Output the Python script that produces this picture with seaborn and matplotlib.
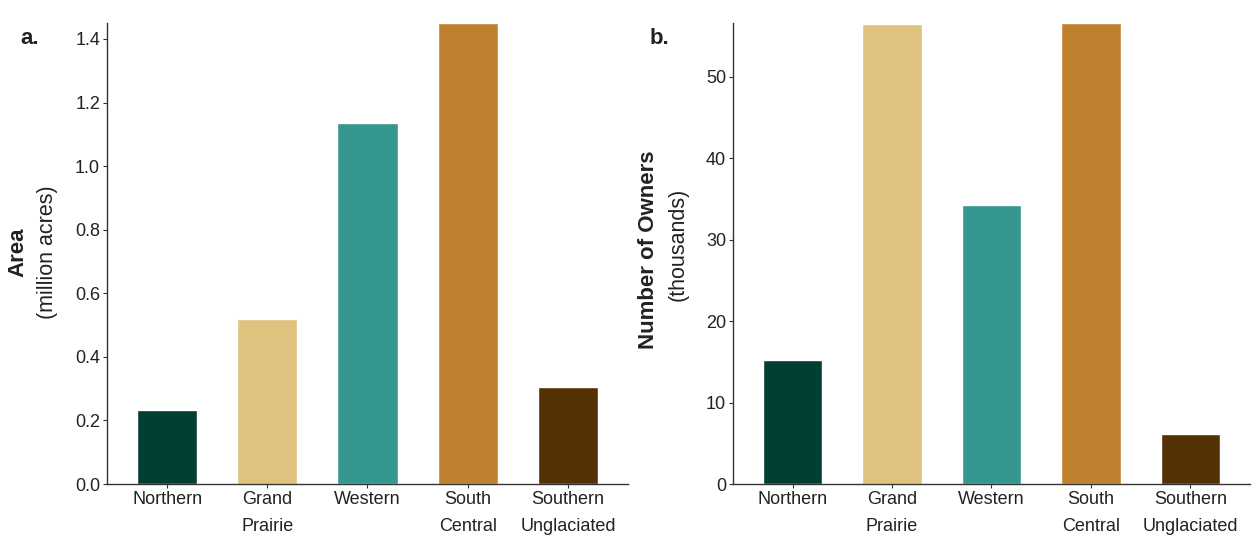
import matplotlib
matplotlib.use("Agg")
import matplotlib.pyplot as plt
import seaborn as sns
import pandas as pd

# ---- data ----
regions = ["Northern", "Grand\nPrairie", "Western", "South\nCentral", "Southern\nUnglaciated"]
area_macres = [0.232, 0.518, 1.135, 1.45, 0.305]
owners_k = [15.2, 56.5, 34.3, 56.6, 6.2]
colors = ["#023f33", "#dfc27d", "#35978f", "#bf812d", "#543005"]

sns.set_theme(style="white")
plt.rcParams["font.family"] = ["Liberation Sans", "DejaVu Sans"]

df = pd.DataFrame({"region": regions, "area": area_macres, "owners": owners_k})
pal = dict(zip(regions, colors))

fig = plt.figure(figsize=(12.54, 5.36), dpi=100)
ax1 = fig.add_axes([0.0853, 0.097, 0.4155, 0.860])
ax2 = fig.add_axes([0.5845, 0.097, 0.4123, 0.860])

for ax, col, yt in [(ax1, "area", [0, 0.2, 0.4, 0.6, 0.8, 1.0, 1.2, 1.4]),
                    (ax2, "owners", [0, 10, 20, 30, 40, 50])]:
    sns.barplot(data=df, x="region", y=col, hue="region", palette=pal,
                legend=False, width=0.6, saturation=1, ax=ax)
    ax.set_xlim(-0.6, 4.6)
    ax.set_ylim(0, df[col].max())
    ax.set_yticks(yt)
    ax.set_xlabel("")
    ax.set_ylabel("")
    sns.despine(ax=ax)
    for s in ["left", "bottom"]:
        ax.spines[s].set_color("#333333")
        ax.spines[s].set_linewidth(1.0)
    ax.tick_params(axis="both", which="both", direction="out", length=3,
                   width=0.8, color="#333333", left=True, bottom=True,
                   labelsize=13, labelcolor="#222222", pad=2)
    for lab in ax.get_xticklabels():
        lab.set_linespacing(1.75)
        lab.set_verticalalignment("top")

ax1.set_yticklabels(["0.0", "0.2", "0.4", "0.6", "0.8", "1.0", "1.2", "1.4"])

# y axis titles (bold main + regular unit line)
fig.text(18 / 1254, 1 - 252 / 536, "Area", rotation=90, fontsize=16,
         fontweight="bold", ha="center", va="center", color="#222222")
fig.text(48 / 1254, 1 - 252 / 536, "(million acres)", rotation=90, fontsize=15.5,
         ha="center", va="center", color="#222222")
fig.text(648 / 1254, 1 - 250 / 536, "Number of Owners", rotation=90, fontsize=16,
         fontweight="bold", ha="center", va="center", color="#222222")
fig.text(678 / 1254, 1 - 244 / 536, "(thousands)", rotation=90, fontsize=15.5,
         ha="center", va="center", color="#222222")

# panel letters
fig.text(20 / 1254, 1 - 38 / 536, "a.", fontsize=16, fontweight="bold",
         ha="left", va="center", color="#222222")
fig.text(650 / 1254, 1 - 38 / 536, "b.", fontsize=16, fontweight="bold",
         ha="left", va="center", color="#222222")

fig.savefig("out.png", dpi=100)
